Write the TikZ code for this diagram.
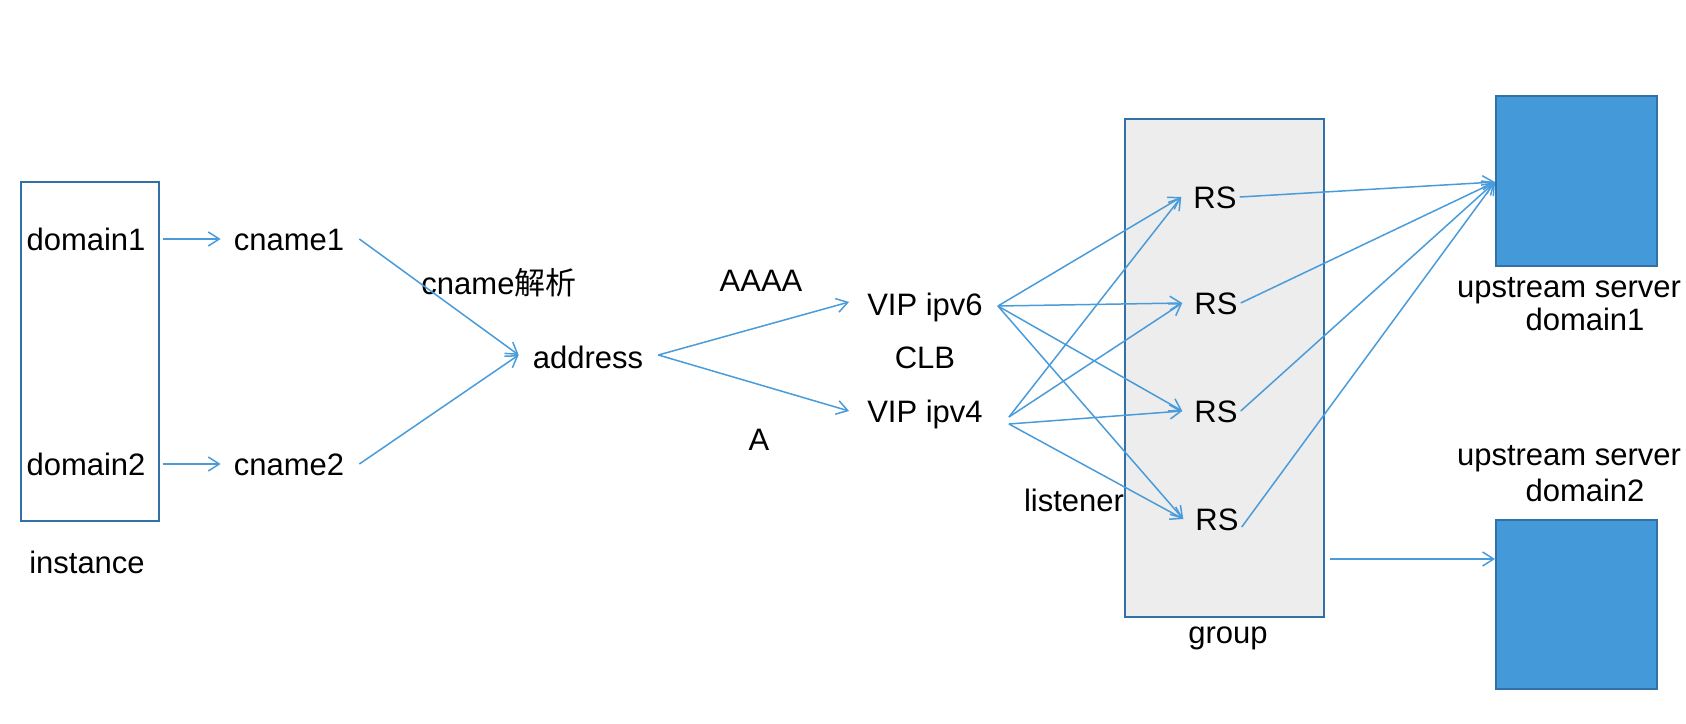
\documentclass[tikz,border=0pt]{standalone}
\usepackage{fontspec}
\setmainfont{Liberation Sans}
\newfontfamily\cjk{Noto Sans CJK SC}
\usetikzlibrary{arrows.meta,calc}
\definecolor{arrc}{HTML}{4A9BDA}
\definecolor{bordc}{HTML}{3270A8}
\definecolor{upfill}{HTML}{449AD8}
\definecolor{grpfill}{HTML}{EDEDED}
\begin{document}
\begin{tikzpicture}[x=1pt,y=-1pt,
  txt/.style={font=\fontsize{31}{37}\selectfont, inner sep=0pt, text height=22pt, text depth=0pt, anchor=center},
  arr/.style={draw=arrc, line width=1.5pt, -{Straight Barb[length=11pt,width=14pt,line width=1.5pt]}},
  boxw/.style={draw=bordc, line width=2pt, inner sep=0pt, anchor=north west}]
\useasboundingbox (0,0) rectangle (1686,723);
% boxes
\node[boxw, fill=white, minimum width=138pt, minimum height=339pt] (inst) at (20,181) {};
\node[boxw, fill=grpfill, minimum width=199pt, minimum height=498pt] (grp) at (1124,118) {};
\node[boxw, fill=upfill, minimum width=161pt, minimum height=170pt] (up1) at (1495,95) {};
\node[boxw, fill=upfill, minimum width=161pt, minimum height=169pt] (up2) at (1495,519) {};
% texts
\node[txt] (d1) at (86,239) {domain1};
\node[txt] (d2) at (86,464) {domain2};
\node[txt] (instl) at (87,562) {instance};
\node[txt] (c1) at (289,239) {cname1};
\node[txt] (c2) at (289,464) {cname2};
\node[txt] (cjx) at (499,283) {cname{\cjk 解析}};
\node[txt] (addr) at (588,357) {address};
\node[txt] (aaaa) at (761,280) {AAAA};
\node[txt] (a) at (759,439) {A};
\node[txt] (v6) at (925,304) {VIP ipv6};
\node[txt] (clb) at (925,357) {CLB};
\node[txt] (v4) at (925,411) {VIP ipv4};
\node[txt] (rs1) at (1215,197) {RS};
\node[txt] (rs2) at (1216,303) {RS};
\node[txt] (rs3) at (1216,411) {RS};
\node[txt] (rs4) at (1217,519) {RS};
\node[txt] (lis) at (1074,500) {listener};
\node[txt] (grpl) at (1228,632) {group};
\node[txt] (u1a) at (1569,286) {upstream server};
\node[txt] (u1b) at (1585,319) {domain1};
\node[txt] (u2a) at (1569,454) {upstream server};
\node[txt] (u2b) at (1585,490) {domain2};
% connectors
\draw[arr] ($(d1.east)+(17,0)$) -- ($(c1.west)+(-13,0)$);
\draw[arr] ($(d2.east)+(17,0)$) -- ($(c2.west)+(-13,0)$);
\draw[arr] ($(c1.east)+(15,0)$) -- ($(addr.west)+(-14,-2)$);
\draw[arr] ($(c2.east)+(15,0)$) -- ($(addr.west)+(-14,-2)$);
\draw[arr] ($(addr.east)+(15,-2)$) -- ($(v6.west)+(-18,-2)$);
\draw[arr] ($(addr.east)+(15,-2)$) -- ($(v4.west)+(-18,0)$);
% VIP ipv6 -> RS
\foreach \r in {rs1,rs2,rs3,rs4}
  \draw[arr] ($(v6.east)+(15,2)$) -- ($(\r.west)+(-12,0)$);
% VIP ipv4 -> RS
\draw[arr] ($(v4.east)+(26,6)$) -- ($(rs1.west)+(-12,0)$);
\draw[arr] ($(v4.east)+(26,6)$) -- ($(rs2.west)+(-12,0)$);
\draw[arr] ($(v4.east)+(26,13)$) -- ($(rs3.west)+(-12,0)$);
\draw[arr] ($(v4.east)+(26,13)$) -- ($(rs4.west)+(-12,0)$);
% RS -> upstream1
\draw[arr] ($(rs1.east)+(3,0)$) -- ($(up1.west)+(0,1)$);
\draw[arr] ($(rs2.east)+(3,0)$) -- ($(up1.west)+(0,1)$);
\draw[arr] ($(rs3.east)+(3,0)$) -- ($(up1.west)+(0,1)$);
\draw[arr] ($(rs4.east)+(3,8)$) -- ($(up1.west)+(0,1)$);
% group -> upstream2
\draw[arr] ($(grp.east)+(5,191)$) -- ($(up2.west)+(0,-45.5)$);
\end{tikzpicture}
\end{document}
